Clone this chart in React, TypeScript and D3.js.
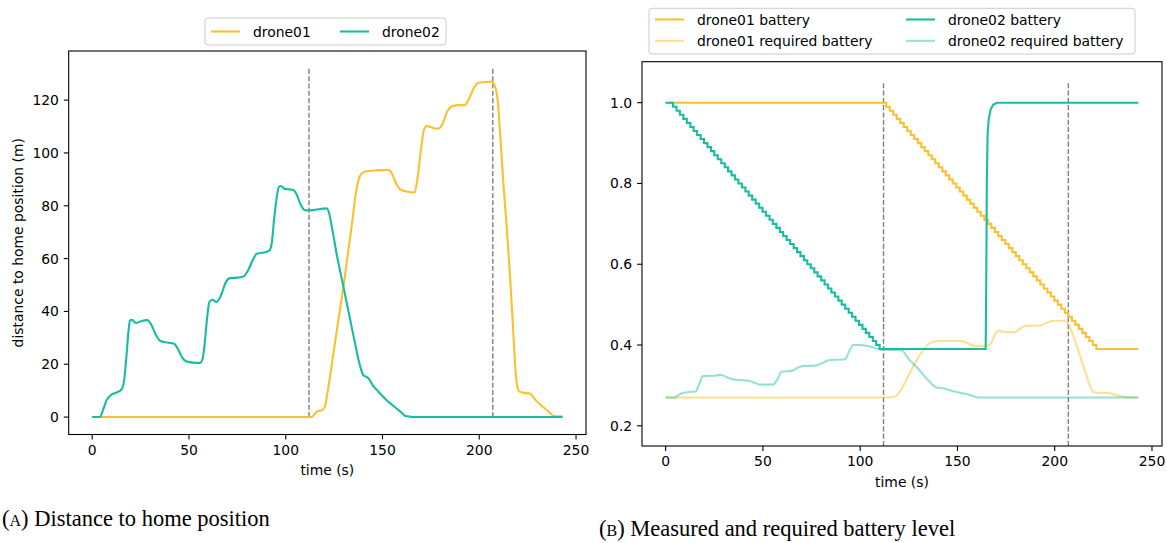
import React from 'react';
import * as d3 from 'd3';

const W = 1167;
const H = 543;
const FONT = '"DejaVu Sans", sans-serif';
const ORANGE = '#fbc02d';
const TEAL = '#17bda0';

const timeTicks = [0, 50, 100, 150, 200, 250];
const distanceTicks = [0, 20, 40, 60, 80, 100, 120];
const batteryTicks = [0.2, 0.4, 0.6, 0.8, 1.0];
const eventTimes = [112, 207];

// [time (s), distance (m)]
const drone01Distance = [
  [0, 0], [113.4, 0], [115, 1.2], [116.5, 2.2], [119, 2.7], [120.3, 4], [121.3, 8],
  [125, 26], [129.8, 49.4], [134, 72], [136.5, 86], [138.5, 91.5], [141, 93],
  [147, 93.4], [153, 93.6], [155, 92], [157, 88.5], [159.5, 86], [163, 85.3],
  [166.5, 85], [168, 90], [170, 102], [171.5, 109], [173, 110.2], [176, 109.5],
  [178.5, 109.2], [181, 111], [183, 115], [185.5, 117.5], [188, 118], [192.5, 118.2],
  [195, 121], [197.5, 125], [199.5, 126.6], [203, 126.8], [206.5, 127], [208, 125.5],
  [209.5, 120], [211, 105], [212.5, 88], [214.2, 72], [216, 52], [217.5, 33],
  [218.7, 18], [219.5, 12], [220.5, 9.8], [222, 9.3], [226.3, 8.8], [229, 6.5],
  [233, 3.8], [236.5, 1.6], [238.5, 0.4], [243, 0.3],
];
const drone02Distance = [
  [0, 0], [4, 0], [5.5, 2.5], [7.5, 6.5], [10, 8.5], [13.5, 9.6], [15.2, 10.5],
  [16.5, 14], [17.8, 24], [18.8, 33], [19.5, 36.5], [20.5, 36.8], [22.6, 35.6],
  [25, 36.2], [28.5, 36.7], [30.5, 35], [33, 31], [35, 28.9], [39, 28.2], [42.3, 27.8],
  [44.5, 25.5], [46.5, 22.5], [48.8, 21], [52, 20.6], [55.7, 20.5], [57, 22], [58, 27],
  [59.3, 37], [60.5, 43.5], [62, 44.4], [64.3, 43.6], [66.5, 46], [69, 51], [71.2, 52.6],
  [75, 52.8], [78.1, 53.2], [80.5, 55.5], [83, 59.5], [85, 61.8], [88.5, 62.3],
  [91.5, 63], [92.8, 66], [94, 75], [95.3, 83], [96.5, 87.2], [97.5, 87.5], [99.5, 86.4],
  [102, 86.2], [104, 86], [105.5, 84.5], [107.4, 81], [109.5, 78.5], [111.7, 78.2],
  [114.5, 78.4], [117.7, 78.8], [121.2, 79], [122.5, 77], [123.8, 72.1], [126.5, 61],
  [129.8, 49.4], [133, 38], [135.8, 27.9], [138, 20.5], [140.1, 15.9], [141.7, 15.2],
  [142.7, 14.7], [145, 12], [147.9, 9.6], [152, 6.5], [156, 4], [160, 1.6],
  [162.2, 0.3], [163, 0.3], [166, 0], [243, 0],
];

// battery drops by 0.01 per step
const batteryLevels = [
  1.00, 0.99, 0.98, 0.97, 0.96, 0.95, 0.94, 0.93, 0.92, 0.91,
  0.90, 0.89, 0.88, 0.87, 0.86, 0.85, 0.84, 0.83, 0.82, 0.81,
  0.80, 0.79, 0.78, 0.77, 0.76, 0.75, 0.74, 0.73, 0.72, 0.71,
  0.70, 0.69, 0.68, 0.67, 0.66, 0.65, 0.64, 0.63, 0.62, 0.61,
  0.60, 0.59, 0.58, 0.57, 0.56, 0.55, 0.54, 0.53, 0.52, 0.51,
  0.50, 0.49, 0.48, 0.47, 0.46, 0.45, 0.44, 0.43, 0.42, 0.41,
  0.40, 0.39,
];
const drone01DropTimes = [
  113.4, 115.2, 117.0, 118.8, 120.6, 122.4, 124.2, 126.0, 127.8, 129.6,
  131.4, 133.2, 135.0, 136.8, 138.6, 140.4, 142.2, 144.0, 145.8, 147.6,
  149.4, 151.2, 153.0, 154.8, 156.6, 158.4, 160.2, 162.0, 163.8, 165.6,
  167.4, 169.2, 171.0, 172.8, 174.6, 176.4, 178.2, 180.0, 181.8, 183.6,
  185.4, 187.2, 189.0, 190.8, 192.6, 194.4, 196.2, 198.0, 199.8, 201.6,
  203.4, 205.2, 207.0, 208.8, 210.6, 212.4, 214.2, 216.0, 217.8, 219.6,
  221.4,
];
const drone02DropTimes = [
  3.8, 5.6, 7.3, 9.1, 10.9, 12.7, 14.4, 16.2, 18.0, 19.7,
  21.5, 23.3, 25.0, 26.8, 28.6, 30.4, 32.1, 33.9, 35.7, 37.4,
  39.2, 41.0, 42.7, 44.5, 46.3, 48.1, 49.8, 51.6, 53.4, 55.1,
  56.9, 58.7, 60.4, 62.2, 64.0, 65.8, 67.5, 69.3, 71.1, 72.8,
  74.6, 76.4, 78.1, 79.9, 81.7, 83.5, 85.2, 87.0, 88.8, 90.5,
  92.3, 94.1, 95.8, 97.6, 99.4, 101.2, 102.9, 104.7, 106.5, 108.2,
  110.0,
];
const drone01BatteryEnd = [[243, 0.39]];
const drone02Recharge = [
  [164.5, 0.39], [164.8, 0.55], [165.1, 0.8], [165.5, 0.92], [166.1, 0.96],
  [167.0, 0.982], [168.3, 0.995], [170.3, 1.0], [243, 1.0],
];
const drone01Required = [
  [0, 0.27], [113, 0.27], [118.6, 0.274], [120.5, 0.285], [125.4, 0.33], [130, 0.37],
  [135, 0.402], [137.4, 0.408], [140.8, 0.41], [147, 0.41], [152, 0.41], [155, 0.405],
  [158.9, 0.398], [164.9, 0.398], [167.4, 0.405], [169.5, 0.428], [170.9, 0.435],
  [175.2, 0.432], [179.4, 0.432], [182, 0.44], [184.6, 0.447], [193.2, 0.449],
  [196, 0.455], [199.1, 0.46], [205.1, 0.46], [207.7, 0.445], [210.5, 0.41],
  [213.7, 0.363], [217, 0.315], [219.7, 0.284], [222, 0.282], [226.6, 0.282],
  [231, 0.277], [235.1, 0.272], [241.1, 0.27], [243, 0.27],
];
const drone02Required = [
  [0, 0.27], [4.6, 0.27], [6, 0.274], [8.1, 0.28], [12.3, 0.284], [15.4, 0.285],
  [17, 0.3], [19.2, 0.323], [21.8, 0.323], [25, 0.324], [28.6, 0.326], [31.5, 0.32],
  [34.6, 0.315], [39, 0.313], [43.2, 0.311], [46, 0.306], [48.3, 0.302], [55.2, 0.302],
  [57.5, 0.315], [59.5, 0.334], [64.6, 0.336], [67.5, 0.343], [70.6, 0.348],
  [77.5, 0.349], [80.8, 0.356], [84.3, 0.363], [92, 0.364], [94.5, 0.385], [96.3, 0.4],
  [99.7, 0.4], [103.2, 0.398], [106, 0.395], [110, 0.389], [115.2, 0.388],
  [121.2, 0.387], [125, 0.365], [129.7, 0.342], [134, 0.318], [139.2, 0.295],
  [142.6, 0.293], [147, 0.287], [151.2, 0.282], [156, 0.277], [161.4, 0.27], [243, 0.27],
];

// turn drop times into a staircase of points
function stairs(dropTimes: number[], levels: number[]) {
  const pts: number[][] = [[0, levels[0]]];
  dropTimes.forEach((t, i) => {
    pts.push([t, levels[i]]);
    pts.push([t, levels[i + 1]]);
  });
  return pts;
}

const drone01Battery = stairs(drone01DropTimes, batteryLevels).concat(drone01BatteryEnd);
const drone02Battery = stairs(drone02DropTimes, batteryLevels).concat(drone02Recharge);

const TIME_DOMAIN = [-12.15, 255.15];

function Axes({ x, y, xTicks, yTicks, yFormat, xLabel, yLabel }: any) {
  const [x0, x1] = x.range();
  const [y0, y1] = y.range();
  return (
    <g fontFamily={FONT} fontSize={13.9} fill="#000">
      <rect x={x0} y={y1} width={x1 - x0} height={y0 - y1} fill="none" stroke="#000" strokeWidth={1.1} />
      {xTicks.map((t: number) => (
        <g key={'x' + t}>
          <line x1={x(t)} x2={x(t)} y1={y0} y2={y0 + 4.9} stroke="#000" strokeWidth={1.1} />
          <text x={x(t)} y={y0 + 20.3} textAnchor="middle">{t}</text>
        </g>
      ))}
      {yTicks.map((t: number) => (
        <g key={'y' + t}>
          <line x1={x0 - 4.9} x2={x0} y1={y(t)} y2={y(t)} stroke="#000" strokeWidth={1.1} />
          <text x={x0 - 9.8} y={y(t) + 5} textAnchor="end">{yFormat(t)}</text>
        </g>
      ))}
      <text x={(x0 + x1) / 2} y={y0 + 40.5} textAnchor="middle">{xLabel}</text>
      {yLabel && (
        <text transform={`translate(${x0 - 46},${(y0 + y1) / 2}) rotate(-90)`} textAnchor="middle">{yLabel}</text>
      )}
    </g>
  );
}

function EventLines({ x, y, lo, hi }: any) {
  return (
    <g>
      {eventTimes.map(t => (
        <line key={t} x1={x(t)} x2={x(t)} y1={y(lo)} y2={y(hi)} stroke="#808080" strokeWidth={1.4} strokeDasharray="5.1,2.2" />
      ))}
    </g>
  );
}

function Legend({ box, items }: any) {
  return (
    <g fontFamily={FONT} fontSize={13.9}>
      <rect x={box.x} y={box.y} width={box.w} height={box.h} rx={3} fill="#fff" fillOpacity={0.8} stroke="#cccccc" strokeWidth={1} />
      {items.map((it: any) => (
        <g key={it.label}>
          <line x1={it.x} x2={it.x + 29} y1={it.y} y2={it.y} stroke={it.color} strokeOpacity={it.opacity} strokeWidth={2.1} />
          <text x={it.x + 42} y={it.y + 5} fill="#000">{it.label}</text>
        </g>
      ))}
    </g>
  );
}

export default function App() {
  // (a) distance chart
  const xa = d3.scaleLinear().domain(TIME_DOMAIN).range([68.7, 586]);
  const ya = d3.scaleLinear().domain([-6.6, 138.6]).range([434.5, 51]);
  const distLine = d3.line<number[]>().x(d => xa(d[0])).y(d => ya(d[1])).curve(d3.curveMonotoneX);

  // (b) battery chart
  const xb = d3.scaleLinear().domain(TIME_DOMAIN).range([642, 1162]);
  const yb = d3.scaleLinear().domain([0.15, 1.1015]).range([446, 61.7]);
  const stepLine = d3.line<number[]>().x(d => xb(d[0])).y(d => yb(d[1]));
  const reqLine = d3.line<number[]>().x(d => xb(d[0])).y(d => yb(d[1])).curve(d3.curveMonotoneX);

  return (
    <svg width={W} height={H} style={{ position: 'absolute', left: 0, top: 0, display: 'block', background: '#fff' }}>
      {/* left panel */}
      <EventLines x={xa} y={ya} lo={0} hi={132} />
      <path d={distLine(drone01Distance) || ''} fill="none" stroke={ORANGE} strokeWidth={2.1} strokeLinejoin="round" />
      <path d={distLine(drone02Distance) || ''} fill="none" stroke={TEAL} strokeWidth={2.1} strokeLinejoin="round" />
      <Axes x={xa} y={ya} xTicks={timeTicks} yTicks={distanceTicks} yFormat={(d: number) => d}
        xLabel="time (s)" yLabel="distance to home position (m)" />
      <Legend box={{ x: 205, y: 18, w: 241, h: 27 }} items={[
        { label: 'drone01', color: ORANGE, opacity: 1, x: 211, y: 31.5 },
        { label: 'drone02', color: TEAL, opacity: 1, x: 340, y: 31.5 },
      ]} />

      {/* right panel */}
      <EventLines x={xb} y={yb} lo={0.15} hi={1.049} />
      <path d={stepLine(drone01Battery) || ''} fill="none" stroke={ORANGE} strokeWidth={2.1} />
      <path d={reqLine(drone01Required) || ''} fill="none" stroke={ORANGE} strokeOpacity={0.5} strokeWidth={2.1} strokeLinejoin="round" />
      <path d={stepLine(drone02Battery) || ''} fill="none" stroke={TEAL} strokeWidth={2.1} />
      <path d={reqLine(drone02Required) || ''} fill="none" stroke={TEAL} strokeOpacity={0.45} strokeWidth={2.1} strokeLinejoin="round" />
      <Axes x={xb} y={yb} xTicks={timeTicks} yTicks={batteryTicks} yFormat={(d: number) => d.toFixed(1)}
        xLabel="time (s)" />
      <Legend box={{ x: 649, y: 8.3, w: 486, h: 45.7 }} items={[
        { label: 'drone01 battery', color: ORANGE, opacity: 1, x: 655, y: 19.5 },
        { label: 'drone01 required battery', color: ORANGE, opacity: 0.5, x: 655, y: 40.8 },
        { label: 'drone02 battery', color: TEAL, opacity: 1, x: 906, y: 19.5 },
        { label: 'drone02 required battery', color: TEAL, opacity: 0.45, x: 906, y: 40.8 },
      ]} />

      {/* captions */}
      <g fontFamily='"Liberation Serif", serif' fontSize={22.5} fill="#000">
        <text x={2} y={526}>(<tspan fontSize={16}>A</tspan>) Distance to home position</text>
        <text x={599} y={536}>(<tspan fontSize={16}>B</tspan>) Measured and required battery level</text>
      </g>
    </svg>
  );
}
